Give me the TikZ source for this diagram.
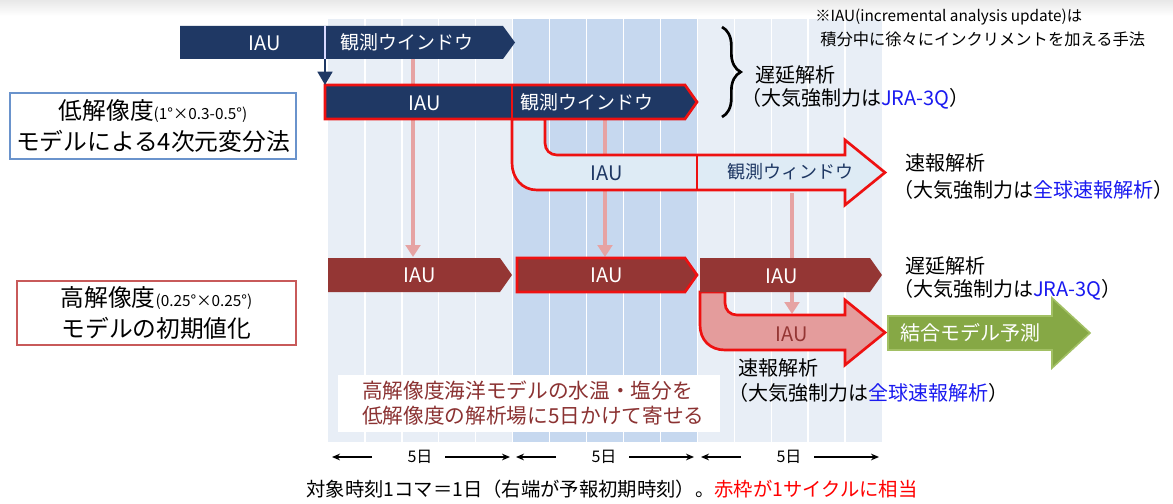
\documentclass[tikz,border=0pt]{standalone}
\usepackage{fontspec}
\setmainfont{Noto Sans CJK JP}
\usetikzlibrary{arrows.meta,decorations.pathreplacing}
\definecolor{navy}{HTML}{1F3864}
\definecolor{dred}{HTML}{943634}
\definecolor{bred}{HTML}{EE1111}
\definecolor{panel}{HTML}{E8EEF6}
\definecolor{paneldark}{HTML}{C6D8EF}
\definecolor{lblue}{HTML}{DEEBF5}
\definecolor{pinkfill}{HTML}{E49C9C}
\definecolor{pinkline}{HTML}{E6A3A3}
\definecolor{gfill}{HTML}{86A845}
\definecolor{gline}{HTML}{A2C064}
\definecolor{jblue}{HTML}{1A1AF0}
\definecolor{box1}{HTML}{6A93CC}
\definecolor{box2}{HTML}{C85A5A}
\definecolor{notered}{HTML}{8B3232}
\tikzset{
  lbl/.style={font=\fontsize{15}{18}\selectfont, inner sep=0pt, anchor=west},
  iau/.style={font=\fontsize{15}{17}\selectfont, inner sep=0pt, text=white},
  win/.style={font=\fontsize{14.2}{17}\selectfont, inner sep=0pt, text=white},
  pinkarrow/.style={draw=pinkline, line width=3pt, -{Triangle[length=9pt,width=11pt]}},
  dayarrow/.style={line width=1pt, -{Stealth[length=6pt,width=5pt]}},
  bigbox/.style={draw, line width=1.2pt, fill=white, align=center, inner sep=0pt,
    font=\fontsize{17.8}{23}\selectfont},
}
\newcommand{\smp}[1]{{\fontsize{11.5}{13}\selectfont #1}}
\begin{document}
\begin{tikzpicture}[x=0.75pt,y=-0.75pt]
\useasboundingbox (0,0) rectangle (1173,503);
\fill[white] (0,0) rectangle (1173,503);
\shade[top color=black!9, bottom color=white] (0,0) rectangle (1173,16);
% panel
\fill[panel] (328,19) rectangle (882,442);
\fill[paneldark] (512,19) rectangle (697,442);
\foreach \i in {1,...,14} \draw[white, line width=1pt] ({328+\i*36.93},19) -- ({328+\i*36.93},442);
% pink vertical arrows (behind)
\coordinate (p1s) at (413,59); \coordinate (p1e) at (413,257);
\coordinate (p2s) at (605,119); \coordinate (p2e) at (605,257);
\coordinate (p3s) at (792,193); \coordinate (p3e) at (792,314);
\draw[pinkarrow] (p1s) -- (p1e);
\draw[pinkarrow] (p2s) -- (p2e);
\draw[pinkarrow] (p3s) -- (p3e);
% row 3 (light blue bent arrow)
\filldraw[fill=lblue, draw=bred, line width=2pt, line join=miter]
 (512,119) -- (512,163) .. controls (512,178) and (522,190) .. (537,190) -- (845,190) -- (845,205) -- (885,172.5) -- (845,140) -- (845,155) -- (557,155) .. controls (550,155) and (545,150) .. (545,143) -- (545,119) -- cycle;
\draw[bred, line width=2pt] (697,155) -- (697,190);
\node[iau, text=navy] (r3a) at (607,173) {IAU};
\node[win, text=navy, font=\fontsize{13.5}{16}\selectfont] (r3b) at (790,172) {観測ウィンドウ};
% row 5 (pink bent arrow)
\filldraw[fill=pinkfill, draw=bred, line width=2pt, line join=miter]
 (700,292) -- (700,325) .. controls (700,340) and (710,350) .. (725,350) -- (845,350) -- (845,365) -- (885,332.5) -- (845,300) -- (845,315) -- (737,315) .. controls (730,315) and (725,310) .. (725,303) -- (725,292) -- cycle;
\node[iau, text=dred] (r5a) at (792,334) {IAU};
% row 4 (dark red arrows)
\fill[dred] (328,258) -- (500,258) -- (512,275) -- (500,292) -- (328,292) -- cycle;
\filldraw[fill=dred, draw=bred, line width=2pt] (517,258) -- (685,258) -- (697,275) -- (685,292) -- (517,292) -- cycle;
\fill[dred] (700,258) -- (870,258) -- (882,275) -- (870,292) -- (700,292) -- cycle;
\node[iau] (r4a) at (420,275) {IAU};
\node[iau] (r4b) at (607,275) {IAU};
\node[iau] (r4c) at (782,276) {IAU};
% row 2
\filldraw[fill=navy, draw=bred, line width=2pt] (325,85) -- (685,85) -- (697,102) -- (685,119) -- (325,119) -- cycle;
\draw[bred, line width=2pt] (512,85) -- (512,119);
\node[iau] (r2a) at (425,103) {IAU};
\node[win] (r2b) at (587,102) {観測ウインドウ};
% row 1
\fill[navy] (180,26) -- (503,26) -- (515,42.5) -- (503,59) -- (180,59) -- cycle;
\draw[white!85!blue, line width=1.5pt] (325,26) -- (325,59);
\node[iau] (r1a) at (265,43) {IAU};
\node[win] (r1b) at (407,42) {観測ウインドウ};
\coordinate (dn1) at (325,59); \coordinate (dn2) at (325,85);
\draw[navy, line width=2pt, -{Triangle[length=10pt,width=11pt]}] (dn1) -- (dn2);
% brace
\draw[line width=2pt, decorate, decoration={brace, amplitude=14pt}] (722,27) -- (722,117);
% left boxes
\node[bigbox, draw=box1, minimum width=214.5pt, minimum height=49.5pt] (lb1) at (153,126)
 {低解像度\smp{(1°×0.3-0.5°)}\\モデルによる4次元変分法};
\node[bigbox, draw=box2, minimum width=209pt, minimum height=48pt] (lb2) at (156.5,313)
 {高解像度\smp{(0.25°×0.25°)}\\モデルの初期値化};
% green arrow
\filldraw[fill=gfill, draw=gline, line width=1.2pt] (888,316) -- (1052,316) -- (1052,298) -- (1090,333) -- (1052,368) -- (1052,350) -- (888,350) -- cycle;
\node[lbl, anchor=center, text=white] (gtx) at (970,333) {結合モデル予測};
% labels
\node[lbl] (a1) at (755,75) {遅延解析};
\node[lbl] (a2) at (741,99) {（大気強制力は\textcolor{jblue}{JRA-3Q}）};
\node[lbl] (b1) at (905,163) {速報解析};
\node[lbl] (b2) at (893,190) {（大気強制力は\textcolor{jblue}{全球速報解析}）};
\node[lbl] (c1) at (905,266) {遅延解析};
\node[lbl] (c2) at (893,290) {（大気強制力は\textcolor{jblue}{JRA-3Q}）};
\node[lbl] (d1) at (738,368) {速報解析};
\node[lbl] (d2) at (728,393) {（大気強制力は\textcolor{jblue}{全球速報解析}）};
% note
\node[inner sep=0pt, anchor=west, font=\fontsize{11.5}{13}\selectfont] (n1) at (815,17) {※IAU(incremental analysis update)は};
\node[inner sep=0pt, anchor=west, font=\fontsize{12.2}{14}\selectfont] (n2) at (820,39) {積分中に徐々にインクリメントを加える手法};
% white note box
\node[fill=white, minimum width=286.5pt, minimum height=42.75pt, inner sep=0pt] (wb) at (529,403.5) {};
\node[inner sep=0pt, anchor=west, text=notered, font=\fontsize{15.5}{18}\selectfont] (w1) at (362,391) {高解像度海洋モデルの水温・塩分を};
\node[inner sep=0pt, anchor=west, text=notered, font=\fontsize{15.5}{18}\selectfont] (w2) at (362,416) {低解像度の解析場に5日かけて寄せる};
% day arrows
\foreach \s/\n in {328/k1,512/k2,697/k3}{
  \coordinate (\n la) at ({\s+44},457); \coordinate (\n lb) at ({\s+4},457);
  \coordinate (\n ra) at ({\s+117},457); \coordinate (\n rb) at ({\s+182},457);
  \draw[dayarrow] (\n la) -- (\n lb);
  \draw[dayarrow] (\n ra) -- (\n rb);
  \node[inner sep=0pt, font=\fontsize{12}{14}\selectfont] (\n t) at ({\s+92},457) {5日};
}
% caption
\node[inner sep=0pt, font=\fontsize{14.5}{17}\selectfont] (cap) at (612,489) {対象時刻1コマ＝1日（右端が予報初期時刻）。\textcolor{red}{赤枠が1サイクルに相当}};
\end{tikzpicture}
\end{document}
